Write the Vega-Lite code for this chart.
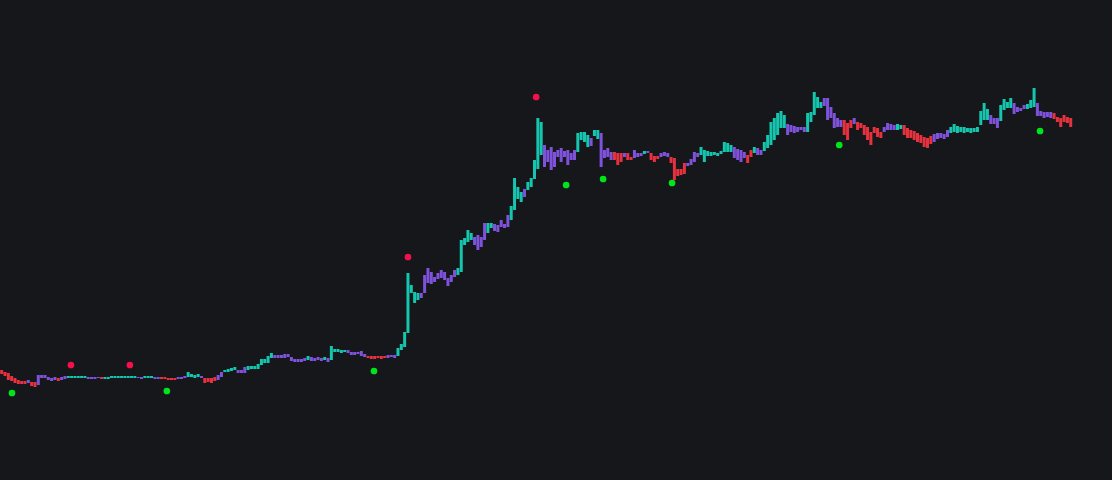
{
  "$schema": "https://vega.github.io/schema/vega-lite/v6.json",
  "width": 1112,
  "height": 480,
  "autosize": {"type": "fit", "contains": "padding"},
  "padding": 0,
  "background": "#16171b",
  "config": {"view": {"stroke": null}},
  "datasets": {
    "bars": [
      {"i":0,"h":110,"l":106,"c":"r"},{"i":1,"h":108,"l":104,"c":"r"},{"i":2,"h":107,"l":100,"c":"r"},{"i":3,"h":104,"l":99,"c":"r"},{"i":4,"h":102,"l":97,"c":"r"},{"i":5,"h":100,"l":96,"c":"r"},{"i":6,"h":99,"l":96,"c":"r"},{"i":7,"h":99,"l":96,"c":"r"},{"i":8,"h":100,"l":97,"c":"p"},{"i":9,"h":98,"l":94,"c":"r"},
      {"i":10,"h":98,"l":93,"c":"r"},{"i":11,"h":105,"l":95,"c":"p"},{"i":12,"h":105,"l":102,"c":"p"},{"i":13,"h":105,"l":102,"c":"p"},{"i":14,"h":103,"l":100,"c":"p"},{"i":15,"h":102,"l":99,"c":"p"},{"i":16,"h":103,"l":100,"c":"p"},{"i":17,"h":102,"l":99,"c":"r"},{"i":18,"h":103,"l":100,"c":"p"},{"i":19,"h":104,"l":101,"c":"p"},
      {"i":20,"h":104,"l":102,"c":"t"},{"i":21,"h":104,"l":102,"c":"t"},{"i":22,"h":104,"l":102,"c":"t"},{"i":23,"h":104,"l":102,"c":"t"},{"i":24,"h":104,"l":102,"c":"t"},{"i":25,"h":104,"l":102,"c":"t"},{"i":26,"h":103,"l":101,"c":"p"},{"i":27,"h":103,"l":101,"c":"p"},{"i":28,"h":103,"l":101,"c":"p"},{"i":29,"h":103,"l":102,"c":"p"},
      {"i":30,"h":103,"l":101,"c":"r"},{"i":31,"h":103,"l":101,"c":"t"},{"i":32,"h":103,"l":101,"c":"t"},{"i":33,"h":104,"l":102,"c":"t"},{"i":34,"h":104,"l":102,"c":"t"},{"i":35,"h":104,"l":102,"c":"t"},{"i":36,"h":104,"l":102,"c":"t"},{"i":37,"h":104,"l":102,"c":"t"},{"i":38,"h":104,"l":102,"c":"t"},{"i":39,"h":104,"l":102,"c":"t"},
      {"i":40,"h":104,"l":102,"c":"t"},{"i":41,"h":103,"l":102,"c":"p"},{"i":42,"h":103,"l":101,"c":"p"},{"i":43,"h":104,"l":102,"c":"t"},{"i":44,"h":104,"l":102,"c":"t"},{"i":45,"h":104,"l":102,"c":"t"},{"i":46,"h":103,"l":101,"c":"p"},{"i":47,"h":103,"l":101,"c":"p"},{"i":48,"h":103,"l":101,"c":"r"},{"i":49,"h":103,"l":101,"c":"r"},
      {"i":50,"h":102,"l":100,"c":"r"},{"i":51,"h":102,"l":100,"c":"r"},{"i":52,"h":102,"l":100,"c":"r"},{"i":53,"h":103,"l":101,"c":"p"},{"i":54,"h":103,"l":101,"c":"p"},{"i":55,"h":104,"l":102,"c":"p"},{"i":56,"h":108,"l":103,"c":"t"},{"i":57,"h":106,"l":103,"c":"t"},{"i":58,"h":105,"l":102,"c":"t"},{"i":59,"h":106,"l":103,"c":"t"},
      {"i":60,"h":104,"l":102,"c":"p"},{"i":61,"h":102,"l":97,"c":"r"},{"i":62,"h":102,"l":98,"c":"r"},{"i":63,"h":102,"l":97,"c":"r"},{"i":64,"h":103,"l":99,"c":"r"},{"i":65,"h":105,"l":100,"c":"p"},{"i":66,"h":108,"l":103,"c":"p"},{"i":67,"h":110,"l":108,"c":"t"},{"i":68,"h":111,"l":108,"c":"t"},{"i":69,"h":112,"l":109,"c":"t"},
      {"i":70,"h":113,"l":110,"c":"t"},{"i":71,"h":110,"l":107,"c":"p"},{"i":72,"h":110,"l":107,"c":"p"},{"i":73,"h":113,"l":107,"c":"p"},{"i":74,"h":114,"l":110,"c":"t"},{"i":75,"h":114,"l":111,"c":"t"},{"i":76,"h":114,"l":111,"c":"t"},{"i":77,"h":116,"l":111,"c":"t"},{"i":78,"h":121,"l":115,"c":"t"},{"i":79,"h":121,"l":117,"c":"t"},
      {"i":80,"h":124,"l":117,"c":"t"},{"i":81,"h":127,"l":122,"c":"t"},{"i":82,"h":125,"l":122,"c":"p"},{"i":83,"h":125,"l":122,"c":"p"},{"i":84,"h":125,"l":122,"c":"p"},{"i":85,"h":126,"l":122,"c":"p"},{"i":86,"h":126,"l":123,"c":"p"},{"i":87,"h":123,"l":119,"c":"p"},{"i":88,"h":121,"l":118,"c":"p"},{"i":89,"h":121,"l":118,"c":"p"},
      {"i":90,"h":121,"l":118,"c":"p"},{"i":91,"h":122,"l":119,"c":"p"},{"i":92,"h":124,"l":120,"c":"t"},{"i":93,"h":123,"l":119,"c":"p"},{"i":94,"h":122,"l":119,"c":"p"},{"i":95,"h":123,"l":120,"c":"p"},{"i":96,"h":122,"l":119,"c":"p"},{"i":97,"h":123,"l":120,"c":"t"},{"i":98,"h":122,"l":118,"c":"p"},{"i":99,"h":134,"l":120,"c":"t"},
      {"i":100,"h":131,"l":128,"c":"t"},{"i":101,"h":131,"l":128,"c":"t"},{"i":102,"h":130,"l":127,"c":"t"},{"i":103,"h":130,"l":128,"c":"t"},{"i":104,"h":130,"l":127,"c":"p"},{"i":105,"h":128,"l":125,"c":"p"},{"i":106,"h":128,"l":125,"c":"p"},{"i":107,"h":128,"l":126,"c":"p"},{"i":108,"h":129,"l":124,"c":"p"},{"i":109,"h":126,"l":123,"c":"p"},
      {"i":110,"h":124,"l":122,"c":"r"},{"i":111,"h":124,"l":121,"c":"r"},{"i":112,"h":124,"l":121,"c":"r"},{"i":113,"h":124,"l":122,"c":"r"},{"i":114,"h":124,"l":121,"c":"r"},{"i":115,"h":124,"l":122,"c":"r"},{"i":116,"h":125,"l":122,"c":"p"},{"i":117,"h":125,"l":123,"c":"p"},{"i":118,"h":125,"l":122,"c":"p"},{"i":119,"h":132,"l":124,"c":"t"},
      {"i":120,"h":136,"l":130,"c":"t"},{"i":121,"h":148,"l":133,"c":"t"},{"i":122,"h":207,"l":147,"c":"t"},{"i":123,"h":195,"l":187,"c":"t"},{"i":124,"h":188,"l":177,"c":"t"},{"i":125,"h":187,"l":180,"c":"t"},{"i":126,"h":187,"l":182,"c":"p"},{"i":127,"h":205,"l":187,"c":"p"},{"i":128,"h":212,"l":197,"c":"p"},{"i":129,"h":208,"l":196,"c":"p"},
      {"i":130,"h":203,"l":198,"c":"p"},{"i":131,"h":207,"l":201,"c":"p"},{"i":132,"h":210,"l":202,"c":"p"},{"i":133,"h":208,"l":200,"c":"p"},{"i":134,"h":202,"l":194,"c":"p"},{"i":135,"h":205,"l":198,"c":"p"},{"i":136,"h":210,"l":203,"c":"p"},{"i":137,"h":212,"l":205,"c":"t"},{"i":138,"h":240,"l":208,"c":"t"},{"i":139,"h":242,"l":235,"c":"t"},
      {"i":140,"h":250,"l":238,"c":"t"},{"i":141,"h":247,"l":240,"c":"t"},{"i":142,"h":243,"l":235,"c":"p"},{"i":143,"h":245,"l":230,"c":"p"},{"i":144,"h":243,"l":233,"c":"p"},{"i":145,"h":257,"l":240,"c":"p"},{"i":146,"h":257,"l":247,"c":"t"},{"i":147,"h":257,"l":252,"c":"t"},{"i":148,"h":256,"l":249,"c":"p"},{"i":149,"h":255,"l":248,"c":"p"},
      {"i":150,"h":260,"l":253,"c":"p"},{"i":151,"h":256,"l":252,"c":"p"},{"i":152,"h":265,"l":253,"c":"p"},{"i":153,"h":274,"l":260,"c":"t"},{"i":154,"h":302,"l":270,"c":"t"},{"i":155,"h":293,"l":281,"c":"t"},{"i":156,"h":288,"l":278,"c":"t"},{"i":157,"h":291,"l":283,"c":"p"},{"i":158,"h":298,"l":290,"c":"t"},{"i":159,"h":302,"l":293,"c":"t"},
      {"i":160,"h":320,"l":301,"c":"t"},{"i":161,"h":362,"l":311,"c":"t"},{"i":162,"h":358,"l":325,"c":"t"},{"i":163,"h":335,"l":313,"c":"p"},{"i":164,"h":330,"l":318,"c":"p"},{"i":165,"h":333,"l":310,"c":"p"},{"i":166,"h":328,"l":313,"c":"p"},{"i":167,"h":330,"l":323,"c":"p"},{"i":168,"h":332,"l":318,"c":"p"},{"i":169,"h":329,"l":323,"c":"p"},
      {"i":170,"h":330,"l":315,"c":"p"},{"i":171,"h":327,"l":320,"c":"p"},{"i":172,"h":330,"l":320,"c":"p"},{"i":173,"h":347,"l":328,"c":"t"},{"i":174,"h":348,"l":340,"c":"t"},{"i":175,"h":348,"l":338,"c":"t"},{"i":176,"h":345,"l":333,"c":"t"},{"i":177,"h":342,"l":334,"c":"p"},{"i":178,"h":350,"l":344,"c":"t"},{"i":179,"h":350,"l":341,"c":"t"},
      {"i":180,"h":347,"l":313,"c":"p"},{"i":181,"h":330,"l":322,"c":"p"},{"i":182,"h":332,"l":323,"c":"p"},{"i":183,"h":328,"l":320,"c":"p"},{"i":184,"h":328,"l":320,"c":"r"},{"i":185,"h":327,"l":315,"c":"r"},{"i":186,"h":327,"l":318,"c":"r"},{"i":187,"h":327,"l":323,"c":"p"},{"i":188,"h":327,"l":320,"c":"r"},{"i":189,"h":323,"l":320,"c":"r"},
      {"i":190,"h":330,"l":322,"c":"p"},{"i":191,"h":327,"l":323,"c":"p"},{"i":192,"h":327,"l":324,"c":"p"},{"i":193,"h":329,"l":326,"c":"t"},{"i":194,"h":329,"l":327,"c":"p"},{"i":195,"h":327,"l":320,"c":"r"},{"i":196,"h":324,"l":318,"c":"r"},{"i":197,"h":324,"l":321,"c":"r"},{"i":198,"h":327,"l":323,"c":"p"},{"i":199,"h":328,"l":324,"c":"p"},
      {"i":200,"h":327,"l":323,"c":"p"},{"i":201,"h":323,"l":317,"c":"r"},{"i":202,"h":322,"l":300,"c":"r"},{"i":203,"h":311,"l":304,"c":"r"},{"i":204,"h":311,"l":305,"c":"r"},{"i":205,"h":317,"l":306,"c":"r"},{"i":206,"h":317,"l":314,"c":"p"},{"i":207,"h":321,"l":315,"c":"p"},{"i":208,"h":328,"l":318,"c":"p"},{"i":209,"h":327,"l":323,"c":"p"},
      {"i":210,"h":333,"l":325,"c":"t"},{"i":211,"h":330,"l":318,"c":"t"},{"i":212,"h":329,"l":324,"c":"t"},{"i":213,"h":328,"l":324,"c":"t"},{"i":214,"h":328,"l":325,"c":"t"},{"i":215,"h":327,"l":324,"c":"t"},{"i":216,"h":329,"l":326,"c":"t"},{"i":217,"h":338,"l":328,"c":"t"},{"i":218,"h":337,"l":328,"c":"t"},{"i":219,"h":335,"l":328,"c":"t"},
      {"i":220,"h":333,"l":322,"c":"p"},{"i":221,"h":331,"l":320,"c":"p"},{"i":222,"h":330,"l":318,"c":"p"},{"i":223,"h":328,"l":322,"c":"p"},{"i":224,"h":325,"l":317,"c":"r"},{"i":225,"h":330,"l":323,"c":"r"},{"i":226,"h":333,"l":327,"c":"t"},{"i":227,"h":332,"l":325,"c":"p"},{"i":228,"h":330,"l":325,"c":"p"},{"i":229,"h":338,"l":329,"c":"t"},
      {"i":230,"h":345,"l":332,"c":"t"},{"i":231,"h":358,"l":335,"c":"t"},{"i":232,"h":362,"l":340,"c":"t"},{"i":233,"h":367,"l":345,"c":"t"},{"i":234,"h":369,"l":352,"c":"t"},{"i":235,"h":365,"l":352,"c":"t"},{"i":236,"h":356,"l":345,"c":"p"},{"i":237,"h":355,"l":348,"c":"p"},{"i":238,"h":354,"l":347,"c":"p"},{"i":239,"h":353,"l":348,"c":"p"},
      {"i":240,"h":353,"l":350,"c":"p"},{"i":241,"h":353,"l":348,"c":"p"},{"i":242,"h":367,"l":348,"c":"t"},{"i":243,"h":368,"l":358,"c":"t"},{"i":244,"h":388,"l":365,"c":"t"},{"i":245,"h":383,"l":372,"c":"t"},{"i":246,"h":378,"l":372,"c":"t"},{"i":247,"h":382,"l":374,"c":"p"},{"i":248,"h":382,"l":360,"c":"p"},{"i":249,"h":373,"l":362,"c":"p"},
      {"i":250,"h":367,"l":352,"c":"p"},{"i":251,"h":362,"l":353,"c":"p"},{"i":252,"h":360,"l":353,"c":"p"},{"i":253,"h":360,"l":345,"c":"r"},{"i":254,"h":357,"l":340,"c":"r"},{"i":255,"h":360,"l":352,"c":"r"},{"i":256,"h":362,"l":356,"c":"p"},{"i":257,"h":358,"l":350,"c":"r"},{"i":258,"h":357,"l":352,"c":"r"},{"i":259,"h":355,"l":345,"c":"r"},
      {"i":260,"h":353,"l":340,"c":"r"},{"i":261,"h":348,"l":335,"c":"r"},{"i":262,"h":353,"l":347,"c":"r"},{"i":263,"h":352,"l":343,"c":"r"},{"i":264,"h":348,"l":342,"c":"r"},{"i":265,"h":353,"l":348,"c":"p"},{"i":266,"h":357,"l":350,"c":"p"},{"i":267,"h":356,"l":350,"c":"p"},{"i":268,"h":355,"l":350,"c":"p"},{"i":269,"h":356,"l":350,"c":"t"},
      {"i":270,"h":355,"l":351,"c":"t"},{"i":271,"h":355,"l":345,"c":"r"},{"i":272,"h":352,"l":342,"c":"r"},{"i":273,"h":350,"l":342,"c":"r"},{"i":274,"h":349,"l":340,"c":"r"},{"i":275,"h":347,"l":338,"c":"r"},{"i":276,"h":345,"l":337,"c":"r"},{"i":277,"h":343,"l":333,"c":"r"},{"i":278,"h":342,"l":332,"c":"r"},{"i":279,"h":344,"l":336,"c":"r"},
      {"i":280,"h":346,"l":338,"c":"p"},{"i":281,"h":347,"l":341,"c":"p"},{"i":282,"h":347,"l":342,"c":"p"},{"i":283,"h":346,"l":341,"c":"p"},{"i":284,"h":350,"l":343,"c":"p"},{"i":285,"h":353,"l":347,"c":"t"},{"i":286,"h":356,"l":348,"c":"t"},{"i":287,"h":354,"l":347,"c":"t"},{"i":288,"h":353,"l":348,"c":"t"},{"i":289,"h":353,"l":347,"c":"t"},
      {"i":290,"h":352,"l":348,"c":"t"},{"i":291,"h":352,"l":347,"c":"t"},{"i":292,"h":352,"l":348,"c":"t"},{"i":293,"h":353,"l":348,"c":"t"},{"i":294,"h":369,"l":355,"c":"t"},{"i":295,"h":377,"l":360,"c":"t"},{"i":296,"h":371,"l":360,"c":"t"},{"i":297,"h":365,"l":356,"c":"p"},{"i":298,"h":362,"l":356,"c":"p"},{"i":299,"h":362,"l":352,"c":"p"},
      {"i":300,"h":375,"l":359,"c":"t"},{"i":301,"h":381,"l":370,"c":"t"},{"i":302,"h":378,"l":372,"c":"t"},{"i":303,"h":382,"l":372,"c":"t"},{"i":304,"h":377,"l":366,"c":"p"},{"i":305,"h":373,"l":368,"c":"p"},{"i":306,"h":372,"l":369,"c":"p"},{"i":307,"h":375,"l":371,"c":"p"},{"i":308,"h":376,"l":371,"c":"t"},{"i":309,"h":380,"l":372,"c":"t"},
      {"i":310,"h":392,"l":373,"c":"t"},{"i":311,"h":377,"l":364,"c":"p"},{"i":312,"h":369,"l":364,"c":"p"},{"i":313,"h":368,"l":362,"c":"p"},{"i":314,"h":368,"l":363,"c":"p"},{"i":315,"h":368,"l":362,"c":"p"},{"i":316,"h":367,"l":361,"c":"r"},{"i":317,"h":363,"l":358,"c":"r"},{"i":318,"h":362,"l":353,"c":"r"},{"i":319,"h":365,"l":358,"c":"r"},
      {"i":320,"h":363,"l":357,"c":"r"},{"i":321,"h":362,"l":353,"c":"r"}
    ],
    "dots": [
      {"i":20.8,"v":115,"k":"high"},{"i":38.5,"v":115,"k":"high"},{"i":122.0,"v":223,"k":"high"},{"i":160.5,"v":383,"k":"high"},
      {"i":3.1,"v":87,"k":"low"},{"i":49.6,"v":89,"k":"low"},{"i":111.8,"v":109,"k":"low"},{"i":169.5,"v":295,"k":"low"},{"i":180.6,"v":301,"k":"low"},{"i":201.3,"v":297,"k":"low"},{"i":251.5,"v":335,"k":"low"},{"i":311.8,"v":349,"k":"low"}
    ]
  },
  "layer": [
    {
      "data": {"name": "bars"},
      "mark": {"type": "bar", "size": 3},
      "encoding": {
        "x": {"field": "i", "type": "quantitative", "axis": null, "scale": {"domain": [-0.5, 333.4], "nice": false, "zero": false, "padding": 0}},
        "y": {"field": "h", "type": "quantitative", "axis": null, "scale": {"domain": [0, 480], "nice": false, "zero": false}},
        "y2": {"field": "l"},
        "color": {"field": "c", "type": "nominal", "legend": null, "scale": {"domain": ["t", "p", "r"], "range": ["#14c6ae", "#7f52dc", "#e5323e"]}}
      }
    },
    {
      "data": {"name": "dots"},
      "mark": {"type": "circle", "size": 45, "opacity": 1},
      "encoding": {
        "x": {"field": "i", "type": "quantitative", "axis": null, "scale": {"domain": [-0.5, 333.4], "nice": false, "zero": false, "padding": 0}},
        "y": {"field": "v", "type": "quantitative", "axis": null, "scale": {"domain": [0, 480], "nice": false, "zero": false}},
        "fill": {"field": "k", "type": "nominal", "legend": null, "scale": {"domain": ["high", "low"], "range": ["#f5104c", "#00e41b"]}}
      }
    }
  ]
}
